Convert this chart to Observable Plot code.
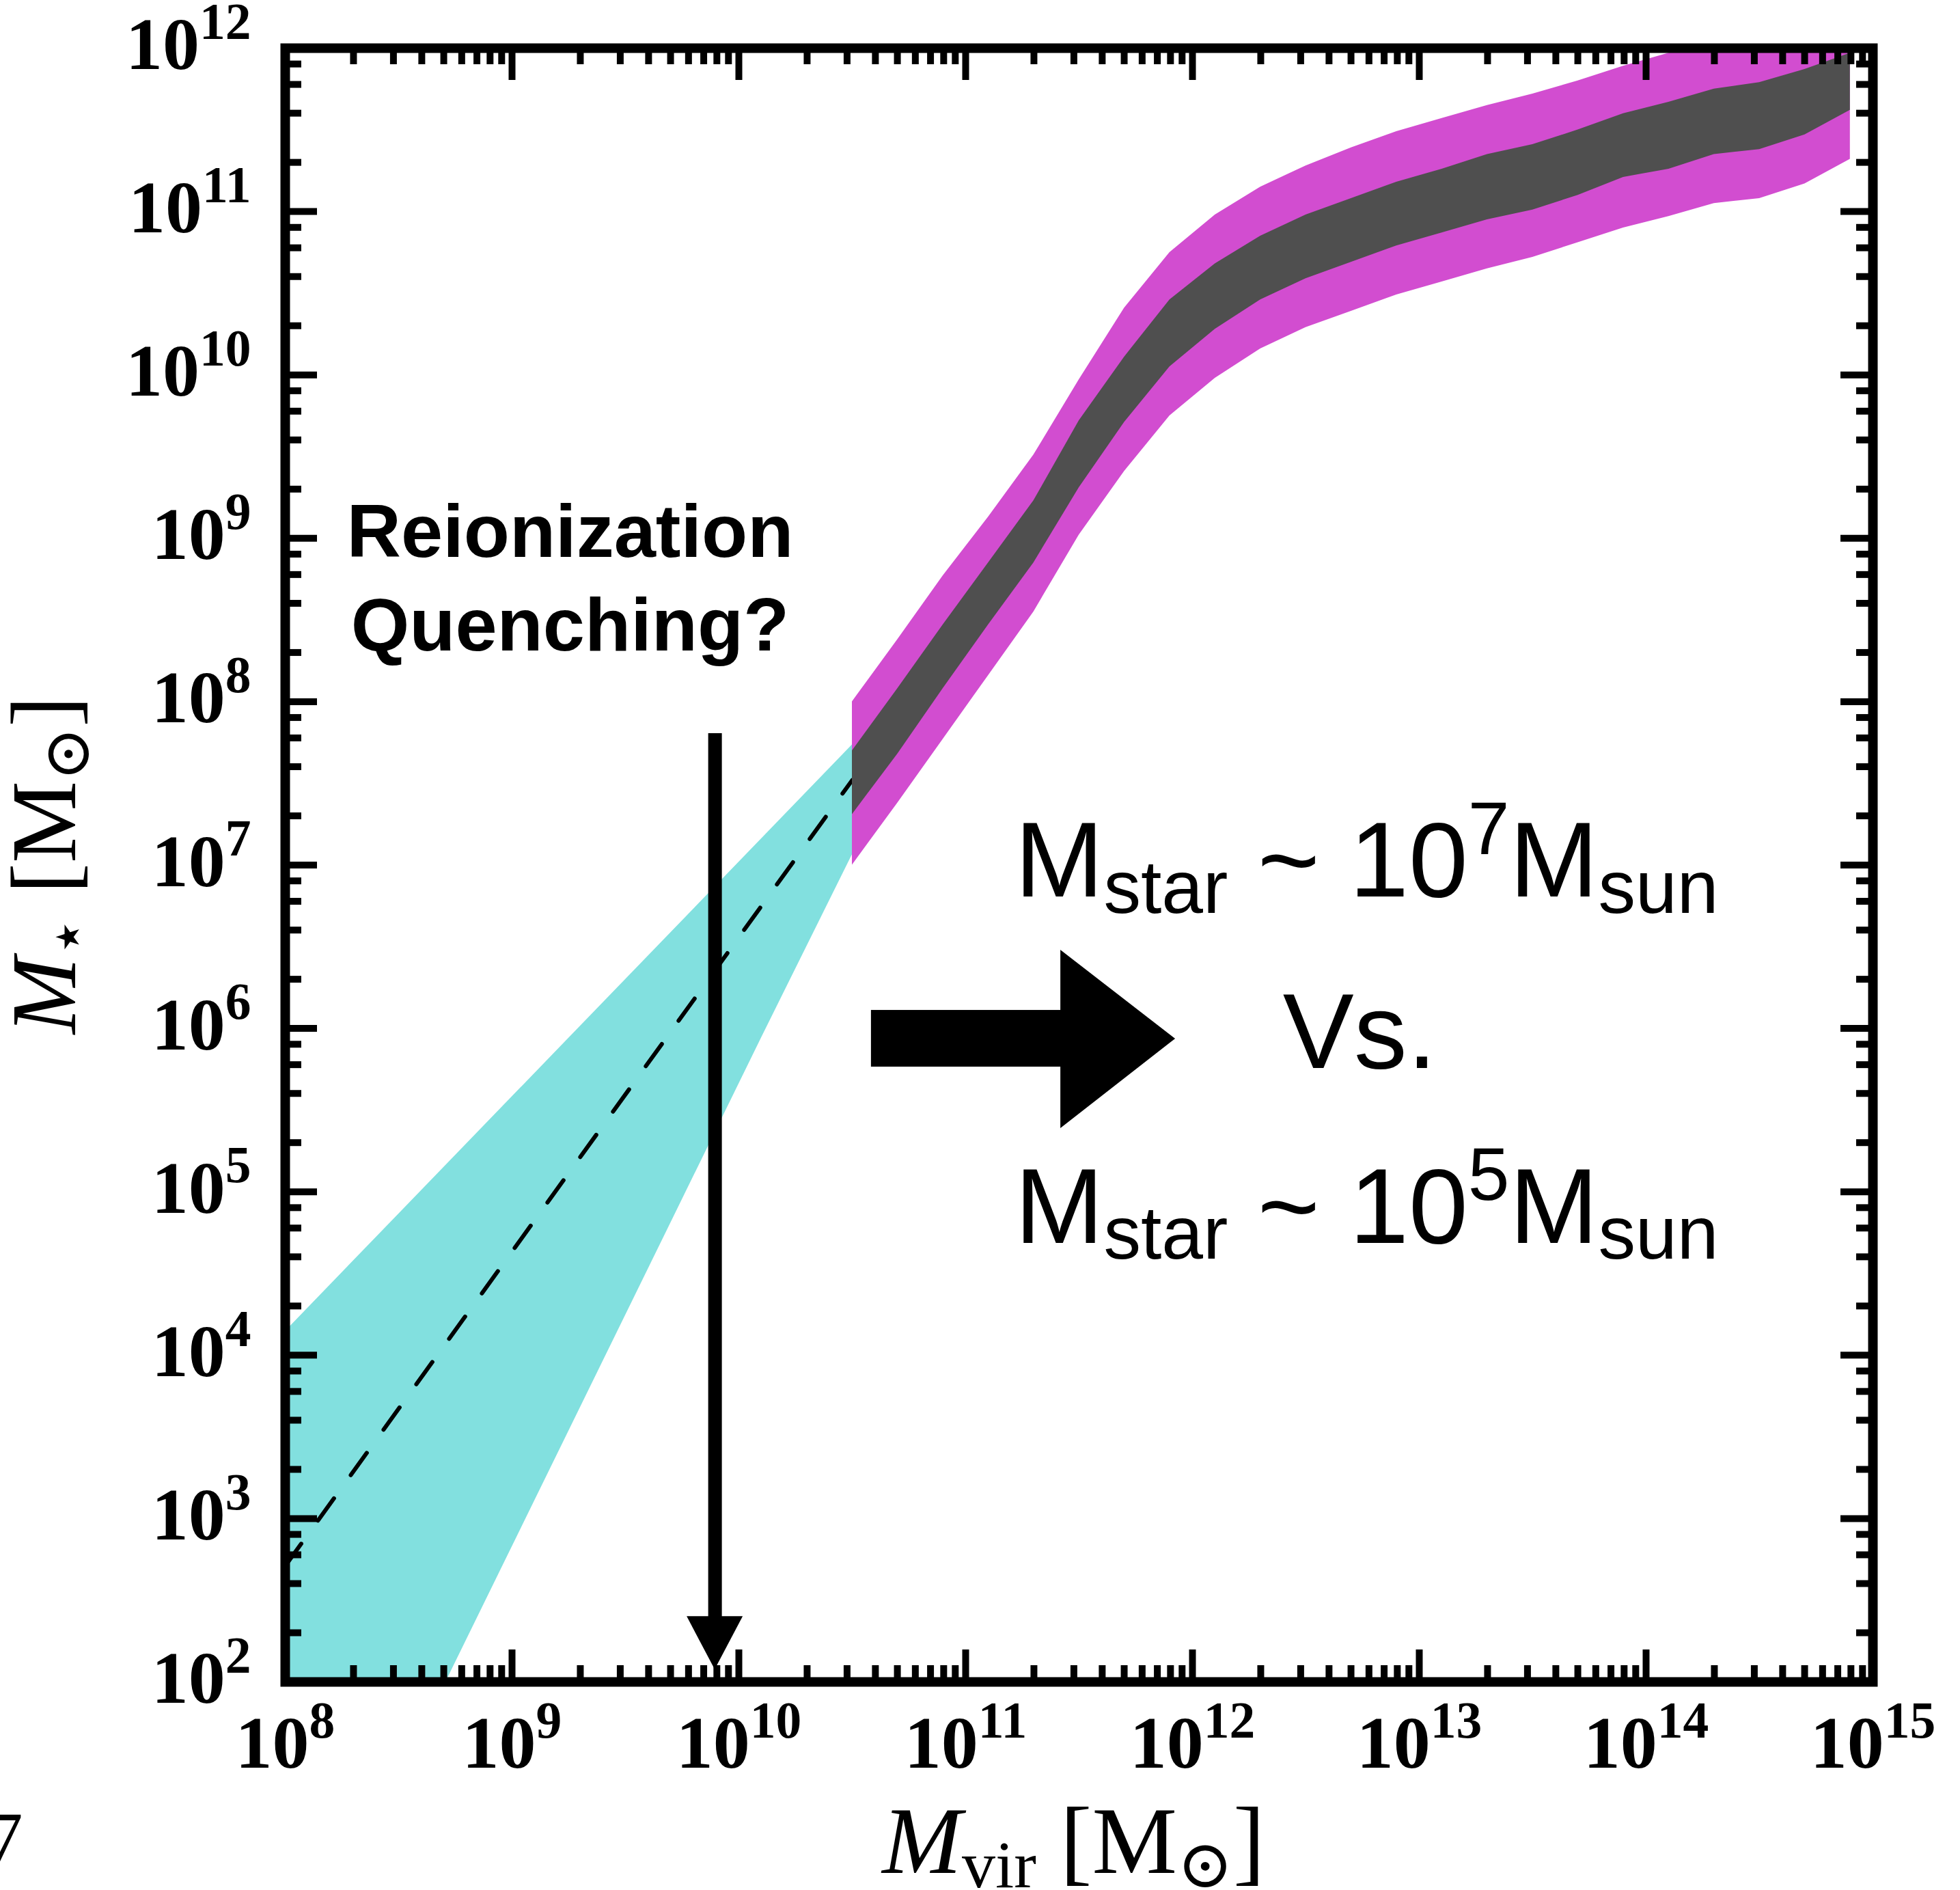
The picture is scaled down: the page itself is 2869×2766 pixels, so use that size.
<!DOCTYPE html>
<html>
<head>
<meta charset="utf-8">
<script src="https://cdn.jsdelivr.net/npm/d3@7"></script>
<script src="https://cdn.jsdelivr.net/npm/@observablehq/plot@0.6"></script>
<style>
  html, body { margin: 0; padding: 0; background: #fff; }
  #chart { width: 2869px; height: 2766px; overflow: hidden; }
</style>
</head>
<body>
<div id="chart"></div>
<script>
// ---------------- data (log10 values) ----------------
const bandLogMvir = [10.5,10.7,10.9,11.1,11.3,11.5,11.7,11.9,12.1,12.3,12.5,12.7,12.9,13.1,13.3,13.5,13.7,13.9,14.1,14.3,14.5,14.7,14.9];
const outerHigh   = [8.00,8.38,8.77,9.13,9.51,9.97,10.41,10.75,10.98,11.15,11.28,11.39,11.49,11.57,11.65,11.72,11.80,11.89,11.97,12.05,12.09,12.17,12.27];
const innerHigh   = [7.70,8.08,8.47,8.85,9.23,9.72,10.11,10.46,10.68,10.85,10.98,11.08,11.18,11.26,11.35,11.41,11.50,11.60,11.67,11.75,11.79,11.87,11.97];
const innerLow    = [7.31,7.68,8.08,8.47,8.85,9.31,9.71,10.05,10.28,10.46,10.59,10.69,10.79,10.87,10.95,11.01,11.10,11.21,11.26,11.35,11.38,11.47,11.62];
const outerLow    = [7.00,7.38,7.77,8.16,8.55,9.02,9.41,9.75,9.98,10.16,10.29,10.39,10.49,10.57,10.65,10.72,10.81,10.90,10.97,11.05,11.08,11.17,11.32];

// low-mass extrapolation region (outline vertices)
const extrapLogMvir  = [8.0, 10.5, 10.5, 10.1, 8.0];
const extrapLogMstar = [4.15, 7.74, 7.07, 5.95, 0.0];

// median power-law extrapolation (dashed)
const medianLogMvir  = [8.0, 10.5];
const medianLogMstar = [2.71, 7.52];

// annotations
const noteText      = ["Reionization", "Quenching?", "M_{star} ~ 10^{7}M_{sun}", "Vs.", "M_{star} ~ 10^{5}M_{sun}"];
const noteLogMvir   = [9.256, 9.256, 12.768, 12.738, 12.768];
const noteLogMstar  = [8.888, 8.315, 6.806, 5.756, 4.689];

const downArrowLogMvir  = 9.895;
const downArrowLogMstar = [7.805, 2.40, 2.075];      // shaft top, head base, tip
const downArrowHalf     = 0.1235;                    // head half width (decades)
const rightArrowLogMvir  = [10.584, 11.419, 11.925]; // tail, head base, tip
const rightArrowLogMstar = [5.764, 6.111, 5.388, 6.479, 5.936]; // shaft lo, hi, head lo, hi, tip

// axes
const xTickExp = [8, 9, 10, 11, 12, 13, 14, 15];
const yTickExp = [2, 3, 4, 5, 6, 7, 8, 9, 10, 11, 12];
const xMinorMult = [2, 3, 4, 5, 6, 7, 8, 9];
const yMinorMult = [2, 4, 6, 8];
const xLabel = "*M*_{vir} [M_{⊙}]";
const yLabel = "*M*_{⋆} [M_{⊙}]";
const strayText = ["7"];

// ---------------- build ----------------
const P = v => 10 ** v;
const SERIF = "'Liberation Serif','Times New Roman','DejaVu Serif',serif";
const SANS = "'Liberation Sans',Arial,Helvetica,'DejaVu Sans',sans-serif";
const WIDTH = 2869, HEIGHT = 2766;
const ML = 417, MR = 128, MT = 70, MB = 305;
const PW = WIDTH - ML - MR, PH = HEIGHT - MT - MB;
const MAJ = 47, MIN = 24, TICKW = 10;

const bandRows = bandLogMvir.map((m, i) => ({x: P(m), oh: P(outerHigh[i]), ih: P(innerHigh[i]), il: P(innerLow[i]), ol: P(outerLow[i])}));
const extrapRows = extrapLogMvir.map((m, i) => ({x: P(m), y: P(extrapLogMstar[i])}));
const medianRows = medianLogMvir.map((m, i) => ({x: P(m), y: P(medianLogMstar[i])}));

const xMajor = xTickExp.map(P);
const xMinor = xTickExp.slice(0, -1).flatMap(e => xMinorMult.map(k => k * P(e)));
const yMajor = yTickExp.map(P);
const yMinor = yTickExp.slice(0, -1).flatMap(e => yMinorMult.map(k => k * P(e)));

const downShaft = [{x: P(downArrowLogMvir), y1: P(downArrowLogMstar[0]), y2: P(downArrowLogMstar[1] - 0.05)}];
const downHead = [
  {y: P(downArrowLogMstar[1]), x1: P(downArrowLogMvir - downArrowHalf), x2: P(downArrowLogMvir + downArrowHalf)},
  {y: P(downArrowLogMstar[2]), x1: P(downArrowLogMvir), x2: P(downArrowLogMvir)}
];
const rightShaft = [{x1: P(rightArrowLogMvir[0]), x2: P(rightArrowLogMvir[1] + 0.02), y1: P(rightArrowLogMstar[0]), y2: P(rightArrowLogMstar[1])}];
const rightHead = [
  {x: P(rightArrowLogMvir[1]), y1: P(rightArrowLogMstar[2]), y2: P(rightArrowLogMstar[3])},
  {x: P(rightArrowLogMvir[2]), y1: P(rightArrowLogMstar[4]), y2: P(rightArrowLogMstar[4])}
];

const chart = Plot.plot({
  width: WIDTH, height: HEIGHT,
  marginLeft: ML, marginRight: MR, marginTop: MT, marginBottom: MB,
  style: {background: "white", overflow: "visible"},
  x: {type: "log", domain: [1e8, 1e15], axis: null},
  y: {type: "log", domain: [1e2, 1e12], axis: null},
  marks: [
    Plot.line(extrapRows, {x: "x", y: "y", fill: "#82e0df", stroke: "none", clip: true}),
    Plot.line(medianRows, {x: "x", y: "y", stroke: "black", strokeWidth: 6, strokeDasharray: "40,42", clip: true}),
    Plot.areaY(bandRows, {x: "x", y1: "ol", y2: "oh", fill: "#d24dd0", clip: true}),
    Plot.areaY(bandRows, {x: "x", y1: "il", y2: "ih", fill: "#4f4f4f", clip: true}),

    Plot.ruleX(downShaft, {x: "x", y1: "y1", y2: "y2", stroke: "black", strokeWidth: 20}),
    Plot.areaX(downHead, {y: "y", x1: "x1", x2: "x2", fill: "black"}),
    Plot.rect(rightShaft, {x1: "x1", x2: "x2", y1: "y1", y2: "y2", fill: "black"}),
    Plot.areaY(rightHead, {x: "x", y1: "y1", y2: "y2", fill: "black"}),

    Plot.text([0, 1], {x: i => P(noteLogMvir[i]), y: i => P(noteLogMstar[i]), text: i => noteText[i],
      fontSize: 110, fontWeight: "bold", fontFamily: SANS, textAnchor: "middle", lineAnchor: "bottom"}),
    Plot.text([2, 3, 4], {x: i => P(noteLogMvir[i]), y: i => P(noteLogMstar[i]), text: i => noteText[i],
      fontSize: 156, fontFamily: SANS, textAnchor: "middle", lineAnchor: "bottom"}),

    // ticks (inward, all four sides)
    Plot.tickX(xMajor, {x: d => d, insetTop: PH - MAJ, strokeWidth: TICKW}),
    Plot.tickX(xMajor, {x: d => d, insetBottom: PH - MAJ, strokeWidth: TICKW}),
    Plot.tickX(xMinor, {x: d => d, insetTop: PH - MIN, strokeWidth: TICKW}),
    Plot.tickX(xMinor, {x: d => d, insetBottom: PH - MIN, strokeWidth: TICKW}),
    Plot.tickY(yMajor, {y: d => d, insetRight: PW - MAJ, strokeWidth: TICKW}),
    Plot.tickY(yMajor, {y: d => d, insetLeft: PW - MAJ, strokeWidth: TICKW}),
    Plot.tickY(yMinor, {y: d => d, insetRight: PW - MIN, strokeWidth: TICKW}),
    Plot.tickY(yMinor, {y: d => d, insetLeft: PW - MIN, strokeWidth: TICKW}),
    Plot.frame({stroke: "black", strokeWidth: 14}),

    // tick labels
    Plot.text(yTickExp, {y: e => P(e), frameAnchor: "left", dx: -50, dy: -4, textAnchor: "end",
      text: e => `10^{${e}}`, fontSize: 108, fontWeight: "bold", fontFamily: SERIF}),
    Plot.text(xTickExp, {x: e => P(e), frameAnchor: "bottom", dy: 49, lineAnchor: "top", textAnchor: "middle",
      text: e => `10^{${e}}`, fontSize: 108, fontWeight: "bold", fontFamily: SERIF}),

    // axis labels
    Plot.text([xLabel], {frameAnchor: "bottom", text: d => d, dx: -8, dy: 279, textAnchor: "middle", lineAnchor: "bottom",
      fontSize: 140, fontFamily: SERIF}),
    Plot.text([yLabel], {frameAnchor: "left", text: d => d, rotate: -90, dx: -308, textAnchor: "middle", lineAnchor: "bottom",
      fontSize: 135, fontFamily: SERIF}),
    Plot.text(strayText, {frameAnchor: "bottom-left", text: d => d, dx: -384, dy: 266, textAnchor: "end",
      lineAnchor: "bottom", fontSize: 110, fontFamily: SERIF})
  ]
});

document.getElementById("chart").appendChild(chart);

// rich text: ^{..} superscript, _{..} subscript, *..* italic
const NS = "http://www.w3.org/2000/svg";
chart.querySelectorAll("text").forEach(t => {
  const s = t.textContent;
  if (!/[_^]\{|\*/.test(s)) return;
  const cs = getComputedStyle(t);
  const fs = parseFloat(cs.fontSize) || 100;
  const serif = /Serif/i.test(cs.fontFamily);
  const bold = (cs.fontWeight === "bold" || +cs.fontWeight >= 600);
  let par;
  if (serif && bold) par = {scale: 0.70, sup: 0.41, sub: 0.15};
  else if (serif) par = {scale: 0.70, sup: 0.40, sub: 0.15};
  else par = {scale: 0.68, sup: 0.245, sub: 0.05};
  t.textContent = "";
  const re = /([_^])\{([^}]*)\}|\*([^*]*)\*|([^_^*]+)/g;
  let m, cur = 0;
  while ((m = re.exec(s))) {
    const ts = document.createElementNS(NS, "tspan");
    let shift = 0, txt, small = false, italic = false;
    if (m[1]) { txt = m[2]; small = true; shift = m[1] === "^" ? -par.sup * fs : par.sub * fs; }
    else if (m[3] !== undefined) { txt = m[3]; italic = true; }
    else txt = m[4];
    const dy = shift - cur; cur = shift;
    if (dy) ts.setAttribute("dy", dy.toFixed(2));
    if (small) ts.setAttribute("font-size", (fs * par.scale).toFixed(2));
    if (italic) ts.setAttribute("font-style", "italic");
    ts.textContent = txt;
    t.appendChild(ts);
  }
});
</script>
</body>
</html>
